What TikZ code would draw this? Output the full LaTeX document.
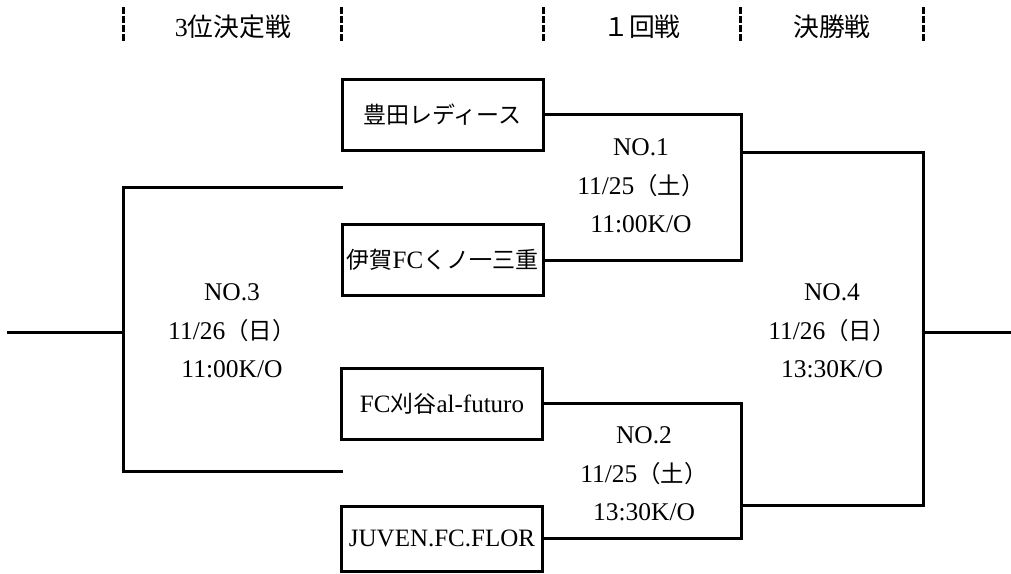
\documentclass[tikz,border=0pt]{standalone}
\usepackage{fontspec}
\setmainfont{Liberation Serif}
\newfontfamily\cjk[Scale=0.92]{Noto Sans CJK JP}
\begin{document}
\begin{tikzpicture}[x=1pt,y=-1pt,
  line/.style={line width=3pt, line cap=rect},
  teambox/.style={draw, line width=3pt, minimum width=201pt, minimum height=71pt, inner sep=0pt, font=\fontsize{25}{30}\selectfont},
  matchlabel/.style={align=center, font=\fontsize{25.5}{38.5}\selectfont, inner sep=0pt},
  header/.style={font=\fontsize{28}{32}\selectfont, inner sep=0pt},
  divider/.style={line width=3pt, dash pattern=on 6.5pt off 2.5pt}
]
\useasboundingbox (0,0) rectangle (1011,573);

% header dividers
\foreach \x/\n in {123/d1,341/d2,543/d3,740/d4,923/d5}{
  \coordinate (\n t) at (\x,7);
  \coordinate (\n b) at (\x,43);
  \draw[divider] (\n t) -- (\n b);
}
\node[header] (h3) at (233,27) {\fontsize{26}{30}\selectfont 3{\cjk\fontsize{28}{32}\selectfont 位決定戦}};
\node[header] (h1) at (642,27) {\cjk １回戦};
\node[header] (hf) at (832,27) {\cjk 決勝戦};

% team boxes
\node[teambox] (t1) at (442.5,114.5) {\cjk 豊田レディース};
\node[teambox] (t2) at (442.5,260) {{\cjk 伊賀}FC{\cjk くノ一三重}};
\node[teambox] (t3) at (442,403.5) {FC{\cjk 刈谷}al-futuro};
\node[teambox, minimum height=65pt] (t4) at (442,538.5) {JUVEN.FC.FLOR};

% junction coordinates
\coordinate (j1) at (741,187);
\coordinate (j2) at (741,471);
\coordinate (j1t) at (741,152);
\coordinate (j2b) at (741,505);
\coordinate (j4) at (923,332);
\coordinate (o4) at (1011,332);
\coordinate (s1) at (341,187);
\coordinate (s2) at (341,471);
\coordinate (j3) at (123,332);
\coordinate (o3) at (8,332);

% first round
\draw[line] (t1.east) -| (j1) |- (t2.east);
\draw[line] (t3.east) -| (j2) |- (t4.east);
% final
\draw[line] (j1t) -| (j4) |- (j2b);
\draw[line] (j4) -- (o4);
% third place
\draw[line] (s1) -| (j3) |- (s2);
\draw[line] (j3) -- (o3);

% match labels
\node[matchlabel] (m1) at (641,186) {NO.1\\11/25{\cjk （土）}\\ 11:00K/O};
\node[matchlabel] (m2) at (644,474) {NO.2\\11/25{\cjk （土）}\\ 13:30K/O};
\node[matchlabel] (m3) at (232,331) {NO.3\\11/26{\cjk （日）}\\ 11:00K/O};
\node[matchlabel] (m4) at (832,331) {NO.4\\11/26{\cjk （日）}\\ 13:30K/O};
\end{tikzpicture}
\end{document}
